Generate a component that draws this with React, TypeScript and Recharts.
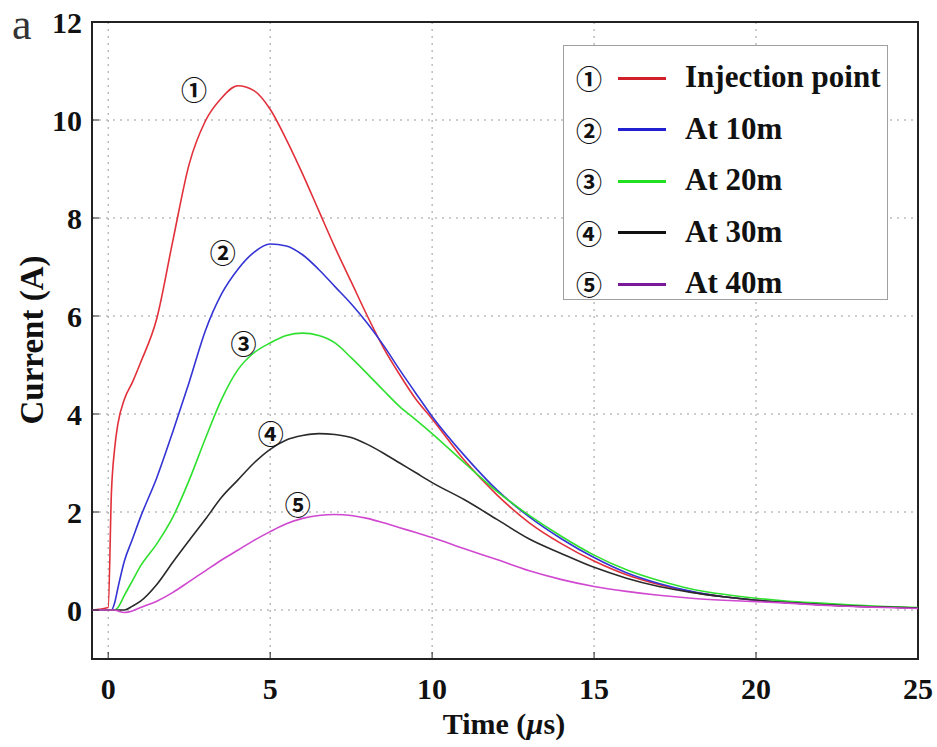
import {
  LineChart,
  Line,
  XAxis,
  YAxis,
  CartesianGrid,
  ReferenceArea,
  ReferenceDot,
} from 'recharts';

const times = [
  -0.5, 0, 0.1, 0.2, 0.3, 0.5, 0.75, 1, 1.5, 2, 2.5, 3, 3.5, 4, 4.5, 5, 5.5, 6, 6.5, 7, 7.5, 8, 8.5, 9, 9.5,
  10, 11, 12, 13, 14, 15, 16, 17, 18, 19, 20, 21, 22, 23, 24, 25,
];

const injection = [
  0, 0.05, 2.4, 3.3, 3.8, 4.3, 4.65, 5.05, 5.95, 7.55, 9.1, 9.98, 10.45, 10.7, 10.6, 10.22, 9.6, 8.9, 8.15,
  7.4, 6.7, 6.0, 5.35, 4.8, 4.3, 3.9, 3.05, 2.35, 1.78, 1.35, 1.0, 0.72, 0.52, 0.37, 0.27, 0.2, 0.15, 0.11,
  0.08, 0.06, 0.04,
];
const at10m = [
  0, 0, 0, 0.15, 0.45, 1.0, 1.45, 1.9, 2.7, 3.65, 4.65, 5.7, 6.45, 6.95, 7.3, 7.47, 7.43, 7.25, 6.95, 6.6,
  6.25, 5.85, 5.4, 4.9, 4.42, 3.95, 3.15, 2.45, 1.9, 1.45, 1.07, 0.76, 0.54, 0.38, 0.27, 0.2, 0.15, 0.11,
  0.08, 0.06, 0.04,
];
const at20m = [
  0, 0, 0, 0, 0.05, 0.3, 0.6, 0.9, 1.35, 1.9, 2.65, 3.5, 4.3, 4.9, 5.25, 5.45, 5.6, 5.65, 5.6, 5.45, 5.15,
  4.82, 4.48, 4.15, 3.88, 3.6, 3.0, 2.42, 1.93, 1.5, 1.12, 0.82, 0.6, 0.43, 0.32, 0.24, 0.18, 0.14, 0.1, 0.07,
  0.05,
];
const at30m = [
  0, 0, 0, 0, 0, 0, 0.08, 0.18, 0.52, 0.98, 1.42, 1.85, 2.3, 2.65, 3.0, 3.28, 3.47, 3.56, 3.6, 3.58, 3.52,
  3.38, 3.2, 3.0, 2.8, 2.6, 2.25, 1.85, 1.45, 1.15, 0.87, 0.65, 0.48, 0.36, 0.27, 0.2, 0.15, 0.11, 0.08, 0.06,
  0.04,
];
const at40m = [
  0, 0, 0, 0, -0.02, -0.05, -0.02, 0.05, 0.18, 0.36, 0.58, 0.8, 1.02, 1.22, 1.42, 1.6, 1.76, 1.87, 1.93,
  1.95, 1.93, 1.87, 1.78, 1.68, 1.58, 1.48, 1.25, 1.03, 0.8, 0.62, 0.48, 0.38, 0.3, 0.24, 0.2, 0.17, 0.14,
  0.1, 0.07, 0.05, 0.03,
];

const seriesKeys = ['inj', 'm10', 'm20', 'm30', 'm40'];
const seriesNames = ['Injection point', 'At 10m', 'At 20m', 'At 30m', 'At 40m'];
const seriesMarks = ['①', '②', '③', '④', '⑤'];
const lineColors = ['#e2303a', '#3434d4', '#2ee02e', '#2a2a2a', '#d048d0'];
const legendColors = ['#d0202a', '#2020d0', '#20e020', '#111111', '#7a1a9a'];

const xTicks = [0, 5, 10, 15, 20, 25];
const yTicks = [0, 2, 4, 6, 8, 10, 12];

// curve labels, in data units
const markX = [2.65, 3.54, 4.18, 5.02, 5.85];
const markY = [10.6, 7.27, 5.41, 3.57, 2.12];

const data = times.map((t, i) => ({
  t,
  inj: injection[i],
  m10: at10m[i],
  m20: at20m[i],
  m30: at30m[i],
  m40: at40m[i],
}));

const serif = '"Liberation Serif", "Times New Roman", serif';
const circled = '"Noto Sans CJK JP", "DejaVu Sans", sans-serif';
const tickStyle = { fontSize: 30, fontWeight: 700, fill: '#111', fontFamily: serif };

export default function App() {
  return (
    <div
      style={{
        position: 'absolute',
        left: 0,
        top: 0,
        width: 937,
        height: 747,
        background: '#fff',
        fontFamily: serif,
      }}
    >
      <LineChart width={937} height={747} data={data} margin={{ top: 22, right: 19, bottom: 28, left: 0 }}>
        <CartesianGrid stroke="#9a9a9a" strokeDasharray="2 5" />
        <XAxis
          dataKey="t"
          type="number"
          domain={[-0.5, 25]}
          ticks={xTicks}
          allowDataOverflow
          height={60}
          axisLine={false}
          tickSize={-7}
          tickMargin={26}
          tickLine={{ stroke: '#222' }}
          tick={tickStyle}
        />
        <YAxis
          type="number"
          domain={[-1, 12]}
          ticks={yTicks}
          allowDataOverflow
          width={92}
          axisLine={false}
          tickSize={-7}
          tickMargin={17}
          tickLine={{ stroke: '#222' }}
          tick={tickStyle}
        />
        <ReferenceArea x1={-0.5} x2={25} y1={-1} y2={12} fill="none" stroke="#222" strokeWidth={2} ifOverflow="visible" />
        {seriesKeys.map((k, i) => (
          <Line
            key={k}
            dataKey={k}
            name={seriesNames[i]}
            type="monotone"
            stroke={lineColors[i]}
            strokeWidth={1.6}
            dot={false}
            isAnimationActive={false}
          />
        ))}
        {seriesMarks.map((m, i) => (
          <ReferenceDot
            key={m}
            x={markX[i]}
            y={markY[i]}
            r={0}
            ifOverflow="visible"
            label={{ value: m, position: 'center', fontSize: 26, fontWeight: 700, fill: '#111', fontFamily: circled }}
          />
        ))}
      </LineChart>

      <div style={{ position: 'absolute', left: 12, top: 0, fontSize: 44, color: '#333', lineHeight: '50px' }}>a</div>

      <div
        style={{
          position: 'absolute',
          left: 32,
          top: 340,
          transform: 'translate(-50%, -50%) rotate(-90deg)',
          fontSize: 33,
          fontWeight: 700,
          whiteSpace: 'nowrap',
          color: '#111',
        }}
      >
        Current (A)
      </div>

      <div
        style={{
          position: 'absolute',
          left: 504,
          top: 724,
          transform: 'translate(-50%, -50%)',
          fontSize: 30,
          fontWeight: 700,
          whiteSpace: 'nowrap',
          color: '#111',
        }}
      >
        Time (<i>µ</i>s)
      </div>

      <div
        style={{
          position: 'absolute',
          left: 563,
          top: 45,
          width: 325,
          height: 255,
          border: '1px solid #a0a0a0',
          background: '#fff',
          boxSizing: 'border-box',
        }}
      >
        {seriesNames.map((n, i) => (
          <div
            key={n}
            style={{
              position: 'absolute',
              left: 0,
              top: 32 + i * 51.5,
              width: 325,
              height: 0,
            }}
          >
            <span
              style={{
                position: 'absolute',
                left: 12,
                top: -18,
                fontSize: 26,
                fontWeight: 700,
                lineHeight: '36px',
                fontFamily: circled,
                color: '#111',
              }}
            >
              {seriesMarks[i]}
            </span>
            <span
              style={{
                position: 'absolute',
                left: 54,
                top: -1.5,
                width: 48,
                height: 3,
                background: legendColors[i],
              }}
            />
            <span
              style={{
                position: 'absolute',
                left: 121,
                top: -19,
                fontSize: 31,
                fontWeight: 700,
                lineHeight: '36px',
                whiteSpace: 'nowrap',
                color: '#111',
              }}
            >
              {n}
            </span>
          </div>
        ))}
      </div>
    </div>
  );
}
